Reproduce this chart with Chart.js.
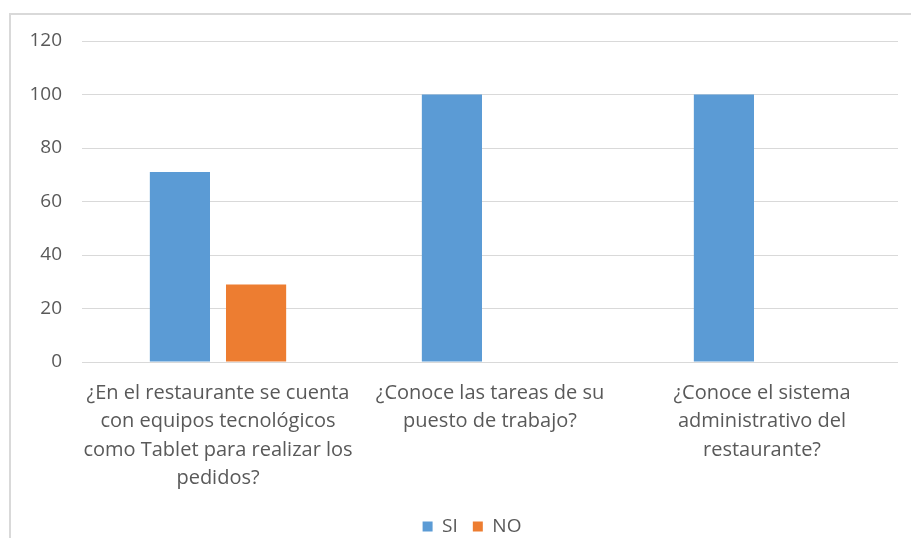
<!DOCTYPE html>
<html>
<head>
<meta charset="utf-8">
<script src="https://cdn.jsdelivr.net/npm/chart.js@4.4.0/dist/chart.umd.min.js"></script>
<style>
  html, body { margin: 0; padding: 0; background: #fff; overflow: hidden; }
  #frame { position: absolute; left: 9px; top: 13px; width: 960px; height: 600px; border: 2px solid #d9d9d9; }
  #wrap { position: absolute; left: 0; top: 0; width: 911px; height: 546px; }
</style>
</head>
<body>
<div id="frame"></div>
<div id="wrap"><canvas id="chart"></canvas></div>
<script>
const categories = [
  ['¿En el restaurante se cuenta', 'con equipos tecnológicos', 'como Tablet para realizar los', 'pedidos?'],
  ['¿Conoce las tareas de su', 'puesto de trabajo?'],
  ['¿Conoce el sistema', 'administrativo del', 'restaurante?']
];
const siValues = [71, 100, 100];
const noValues = [29, 0, 0];
const yTicks = [0, 20, 40, 60, 80, 100, 120];

const textColor = '#595959';
const gridColor = '#d9d9d9';
const fontFamily = '"Open Sans", "Noto Sans", sans-serif';

// the original legend sits a bit right of the canvas centre
const shiftLegend = {
  id: 'shiftLegend',
  afterLayout(chart) {
    chart.legend.left += 23;
    chart.legend.right += 23;
  }
};

new Chart(document.getElementById('chart'), {
  type: 'bar',
  data: {
    labels: categories,
    datasets: [
      { label: 'SI', data: siValues, backgroundColor: '#5B9BD5' },
      { label: 'NO', data: noValues, backgroundColor: '#ED7D31' }
    ]
  },
  plugins: [shiftLegend],
  options: {
    responsive: true,
    maintainAspectRatio: false,
    animation: false,
    categoryPercentage: 0.56,
    barPercentage: 0.79,
    layout: { padding: { top: 41, right: 13, left: 0, bottom: 0 } },
    scales: {
      x: {
        grid: { display: false },
        border: { display: false },
        ticks: {
          color: textColor,
          padding: 9,
          maxRotation: 0,
          autoSkip: false,
          font: { family: fontFamily, size: 20, lineHeight: 1.425 }
        },
        afterFit: scale => { scale.height = 140; }
      },
      y: {
        min: yTicks[0],
        max: yTicks[yTicks.length - 1],
        grid: { color: gridColor, lineWidth: 1, drawTicks: false },
        border: { display: false },
        ticks: {
          stepSize: yTicks[1] - yTicks[0],
          color: textColor,
          padding: 20,
          font: { family: fontFamily, size: 19 }
        },
        afterFit: scale => { scale.width = 82; }
      }
    },
    plugins: {
      tooltip: { enabled: false },
      legend: {
        position: 'bottom',
        labels: {
          color: textColor,
          boxWidth: 10,
          boxHeight: 10,
          padding: 15,
          font: { family: fontFamily, size: 19 }
        }
      }
    }
  }
});
</script>
</body>
</html>
